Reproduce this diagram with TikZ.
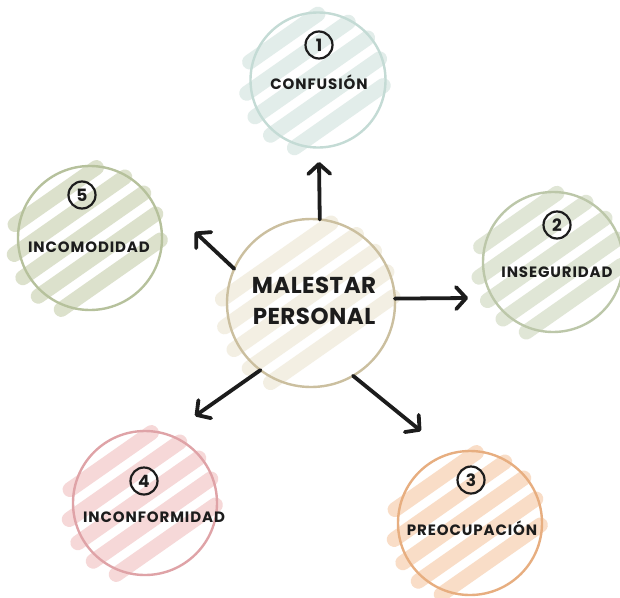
\documentclass[tikz,border=0pt]{standalone}
\usepackage{fontspec}
\setmainfont{Poppins}
\usetikzlibrary{arrows.meta,backgrounds}

\definecolor{ink}{HTML}{1C1C1C}
\definecolor{confline}{HTML}{C4DBD5}
\definecolor{confwash}{HTML}{E2EDEA}
\definecolor{malline}{HTML}{CBBF9F}
\definecolor{malwash}{HTML}{F3EFE3}
\definecolor{insline}{HTML}{BCC7A9}
\definecolor{inswash}{HTML}{E0E6D6}
\definecolor{incline}{HTML}{B6C19C}
\definecolor{incwash}{HTML}{DCE1CC}
\definecolor{infline}{HTML}{DFA3A7}
\definecolor{infwash}{HTML}{F6D8D8}
\definecolor{preline}{HTML}{E7AE80}
\definecolor{prewash}{HTML}{F9DDC7}

% diagonal marker strokes behind a bubble: centre, radius, colour
\newcommand{\wash}[3]{%
  \begin{scope}[shift={(#1)}, rotate=35]
    \foreach \d [evaluate=\d as \len using {sqrt(max(#2*#2-\d*\d,1))-2}] in {-54,-30,...,54}
      \draw[washline, #3] (-\len-8,\d) -- (\len,\d);
  \end{scope}}

\tikzset{
  bubble/.style={circle, draw, line width=2.4pt, inner sep=0pt, outer sep=0pt},
  num/.style={circle, draw=ink, text=ink, line width=2.2pt, minimum size=27pt, inner sep=0pt,
    font=\bfseries\fontsize{17}{17}\selectfont},
  lbl/.style={text=ink, font=\bfseries\fontsize{15}{15}\selectfont\addfontfeatures{LetterSpace=6}},
  big/.style={text=ink, align=center, font=\bfseries\fontsize{23}{31}\selectfont\addfontfeatures{LetterSpace=2}},
  arr/.style={draw=ink, line width=3.8pt, line cap=round, -{Straight Barb[round,length=10pt,width=22pt]}},
  washline/.style={line width=15pt, line cap=round},
}

\begin{document}
\begin{tikzpicture}[x=1pt, y=-1pt]

\useasboundingbox (0,0) rectangle (620,597);

% bubbles
\node [bubble, draw=malline, minimum size=168pt] (mal) at (311,303) {};
\node [bubble, draw=confline, minimum size=135pt] (conf) at (318,80) {};
\node [bubble, draw=insline, minimum size=140pt] (inseg) at (553,262) {};
\node [bubble, draw=preline, minimum size=144pt] (preoc) at (470,523) {};
\node [bubble, draw=infline, minimum size=144pt] (inconf) at (145,503) {};
\node [bubble, draw=incline, minimum size=144pt] (incom) at (90,238) {};

\begin{pgfonlayer}{background}
  \fill[white] (0,0) rectangle (620,597);
  \wash{mal}{84}{malwash}
  \wash{conf}{67}{confwash}
  \wash{inseg}{70}{inswash}
  \wash{preoc}{72}{prewash}
  \wash{inconf}{72}{infwash}
  \wash{incom}{72}{incwash}
\end{pgfonlayer}

% labels
\node [big] (maltext) at (314,301) {MALESTAR\\PERSONAL};

\node [num] (n1) at (319,45) {1};
\node [lbl] (conftext) at (319,82) {CONFUSIÓN};

\node [num] (n2) at (557,225) {2};
\node [lbl] (instext) at (557,272) {INSEGURIDAD};

\node [num] (n3) at (471,480) {3};
\node [lbl] (pretext) at (472,528) {PREOCUPACIÓN};

\node [num] (n4) at (144,481) {4};
\node [lbl] (inftext) at (154,517) {INCONFORMIDAD};

\node [num] (n5) at (82,195) {5};
\node [lbl] (inctext) at (89,247) {INCOMODIDAD};

% arrows
\coordinate (tipconf) at (319,162);
\coordinate (tipinseg) at (468,298);
\coordinate (tippreoc) at (421,431);
\coordinate (tipinconf) at (195,416);
\coordinate (tipincom) at (195,232);

\draw [arr] (mal.84) -- (tipconf);
\draw [arr] (mal.3) -- (tipinseg);
\draw [arr] (mal.300) -- (tippreoc);
\draw [arr] (mal.233) -- (tipinconf);
\draw [arr] (mal.156) -- (tipincom);

\end{tikzpicture}
\end{document}
